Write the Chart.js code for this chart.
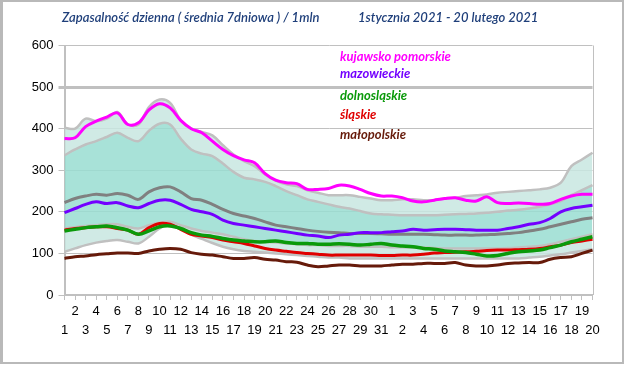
<!DOCTYPE html>
<html lang="pl">
<head>
<meta charset="UTF-8">
<title>Zapasalność dzienna</title>
<script src="https://cdn.jsdelivr.net/npm/chart.js"></script>
<style>
  body { margin: 0; background: #fff; }
  #wrap { position: relative; width: 626px; height: 365px; }
  #frame { position: absolute; left: 0; top: 0; width: 624px; height: 364px; box-sizing: border-box;
           border: 2px solid #b9b9b9; border-left-width: 3px; pointer-events: none; }
</style>
</head>
<body>
<div id="wrap">
  <canvas id="chart" width="626" height="365"></canvas>
  <div id="frame"></div>
</div>
<script>
// days: 1 Jan 2021 .. 20 Feb 2021
const dayLabels = ['1','2','3','4','5','6','7','8','9','10','11','12','13','14','15','16','17','18','19','20',
  '21','22','23','24','25','26','27','28','29','30','31',
  '1','2','3','4','5','6','7','8','9','10','11','12','13','14','15','16','17','18','19','20'];

const yTicks = [0, 100, 200, 300, 400, 500, 600];

// voivodeships (cases per 1 mln, 7-day average)
const kujawskoPomorskie = [376,378,405,418,428,438,410,414,445,460,450,420,400,390,370,350,335,325,318,292,
  276,270,268,254,254,256,264,262,254,244,238,238,234,226,224,228,232,234,228,226,236,222,220,221,220,218,220,230,238,242,242];
const mazowieckie = [198,208,218,224,220,222,214,210,220,228,228,218,206,200,194,180,172,168,164,160,
  156,152,148,144,142,138,144,146,150,150,150,152,154,158,156,157,158,158,157,156,156,156,160,164,170,174,184,200,208,212,216];
const dolnoslaskie = [154,158,162,164,166,162,156,146,154,164,166,160,150,144,141,136,132,130,128,128,
  130,126,124,124,122,122,123,122,120,122,124,120,118,116,112,110,106,104,102,98,94,95,100,104,106,108,114,120,128,134,140];
const slaskie = [156,160,162,164,164,160,156,146,162,172,170,158,146,142,138,132,128,124,118,112,
  108,105,102,100,98,96,96,96,96,96,95,95,96,96,98,101,102,103,104,105,107,108,108,109,110,112,116,120,126,130,134];
const malopolskie = [88,92,94,97,99,101,101,100,106,110,112,110,102,98,96,92,88,88,90,86,
  84,80,79,72,68,70,72,72,70,70,70,72,74,74,76,76,76,78,72,70,70,72,76,77,78,78,86,90,92,100,108];

// band of all voivodeships
const bandMax = [402,400,424,418,424,440,410,410,452,470,462,420,400,392,384,360,338,322,310,290,
  275,266,262,252,246,240,240,240,236,232,228,228,230,230,228,228,232,234,238,240,242,246,248,250,252,254,258,270,310,326,342];
const bandUpper = [336,350,362,370,380,390,378,370,395,412,410,376,350,340,334,316,296,282,278,272,
  262,250,240,230,224,218,212,208,202,196,194,193,192,192,192,192,193,194,195,196,198,200,203,205,208,212,218,226,240,252,264];
const bandMedian = [222,232,238,242,240,244,240,230,248,258,260,248,232,228,218,206,196,190,184,176,
  168,164,160,156,153,151,150,148,148,148,147,146,146,146,146,145,144,144,144,144,145,146,148,150,154,158,164,170,176,182,186];
const bandLower = [160,163,166,168,170,170,164,160,168,174,176,168,160,154,150,146,140,134,130,128,
  126,124,122,120,120,118,118,118,116,116,116,115,115,114,114,113,112,112,112,112,112,112,113,114,116,118,122,128,134,140,146];
const bandMin = [104,112,120,126,130,132,128,124,140,160,170,160,145,135,125,116,110,106,104,102,
  100,98,96,94,92,90,90,88,88,88,88,88,88,88,88,88,88,88,88,88,88,88,88,88,90,92,95,98,102,106,110];

const seriesNames = ['kujawsko pomorskie', 'mazowieckie', 'dolnosląskie', 'śląskie', 'małopolskie'];
const seriesColors = ['#ff00ff', '#7300ff', '#0a9a0a', '#e00000', '#661a0a'];

const lightTeal = 'rgba(200,230,224,0.85)';
const darkTeal = 'rgba(153,221,209,0.85)';

function line(data, color, width, fill, bg) {
  return {
    data: data,
    borderColor: color,
    borderWidth: width,
    pointRadius: 0,
    tension: 0.35,
    fill: fill === undefined ? false : fill,
    backgroundColor: bg || 'transparent'
  };
}

const datasets = [
  line(kujawskoPomorskie, seriesColors[0], 3),
  line(mazowieckie, seriesColors[1], 3),
  line(dolnoslaskie, seriesColors[2], 3.5),
  line(slaskie, seriesColors[3], 3),
  line(malopolskie, seriesColors[4], 3),
  line(bandMax, '#c0c0c0', 2.5, 6, lightTeal),      // 5 -> 6
  line(bandUpper, '#c0c0c0', 2.5, 8, darkTeal),     // 6 -> 8
  line(bandMedian, '#808080', 3),                   // 7
  line(bandLower, '#c0c0c0', 2.5, 9, lightTeal),    // 8 -> 9
  line(bandMin, '#c0c0c0', 2.5)                     // 9
];

const textPlugin = {
  id: 'texts',
  afterDraw(chart) {
    const ctx = chart.ctx;
    ctx.save();
    ctx.textBaseline = 'middle';
    ctx.textAlign = 'left';
    ctx.fillStyle = '#1f3f7a';
    ctx.font = 'italic 600 13px Lato';
    ctx.fillText('Zapasalność dzienna ( średnia 7dniowa ) / 1mln', 62, 18);
    ctx.fillText('1stycznia 2021 - 20 lutego 2021', 358, 18);

    const ys = [57, 74, 96, 115, 135];
    ctx.font = 'italic bold 13px Lato';
    seriesNames.forEach((n, i) => {
      ctx.fillStyle = seriesColors[i];
      ctx.fillText(n, 340, ys[i]);
    });

    // plot area border (right side)
    const a = chart.chartArea;
    ctx.strokeStyle = '#c0c0c0';
    ctx.lineWidth = 1;
    ctx.beginPath();
    ctx.moveTo(Math.round(a.right) + 0.5, a.top);
    ctx.lineTo(Math.round(a.right) + 0.5, a.bottom);
    ctx.stroke();
    ctx.restore();
  }
};

new Chart(document.getElementById('chart'), {
  type: 'line',
  data: { labels: dayLabels, datasets: datasets },
  options: {
    responsive: false,
    animation: false,
    events: [],
    layout: { padding: { top: 45.5, right: 33.5, bottom: 0, left: 0 } },
    plugins: {
      legend: { display: false },
      tooltip: { enabled: false },
      title: { display: false },
      filler: { drawTime: 'beforeDatasetsDraw' }   // all bands under all lines
    },
    scales: {
      x: {
        offset: false,
        grid: { display: true, drawOnChartArea: false, drawTicks: true, tickLength: 5, color: '#c0c0c0' },
        border: { color: '#c0c0c0', width: 2 },
        ticks: {
          autoSkip: false, maxRotation: 0, minRotation: 0, padding: 2,
          color: '#000',
          font: { family: 'Liberation Sans, Arial', size: 13, lineHeight: 1.45 },
          callback: function (value, index) {
            const lbl = dayLabels[index];
            return index % 2 === 1 ? [lbl, ''] : ['', lbl];
          }
        },
        afterFit(scale) { scale.height = 70; }
      },
      y: {
        min: 0, max: 600,
        afterBuildTicks(scale) { scale.ticks = yTicks.map(v => ({ value: v })); },
        grid: {
          color: '#c0c0c0',
          lineWidth: ctx => (ctx.tick && ctx.tick.value === 500 ? 3 : 1),
          drawTicks: true, tickLength: 6
        },
        border: { color: '#c0c0c0', width: 2 },
        ticks: { color: '#000', padding: 5, font: { family: 'Liberation Sans, Arial', size: 13 } },
        afterFit(scale) { scale.width = 64.5; }
      }
    }
  },
  plugins: [textPlugin]
});
</script>
</body>
</html>
